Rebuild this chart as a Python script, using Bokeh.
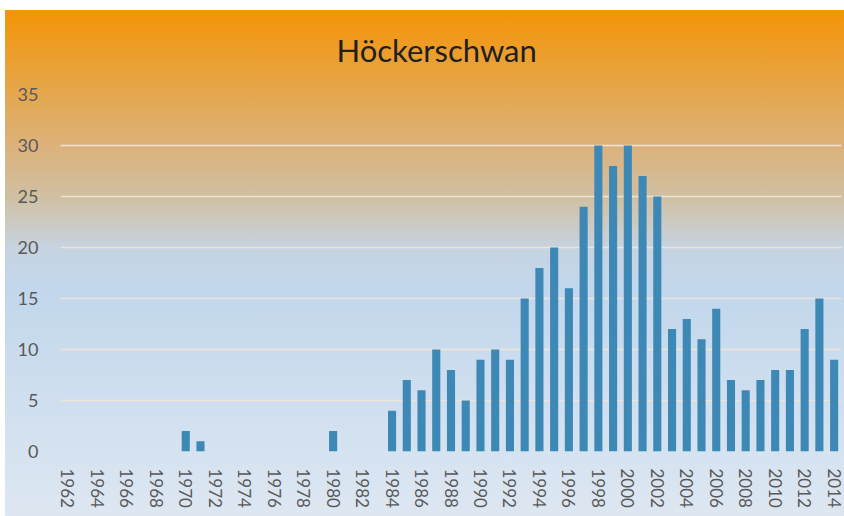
from bokeh.plotting import figure
from bokeh.models import FixedTicker, Range1d, Title
from bokeh.embed import file_html
from bokeh.resources import INLINE

# ---- data ----
years = list(range(1962, 2015))
counts = [0, 0, 0, 0, 0, 0, 0, 0,      # 1962-1969
          2, 1,                        # 1970-1971
          0, 0, 0, 0, 0, 0, 0, 0,      # 1972-1979
          2,                           # 1980
          0, 0, 0,                     # 1981-1983
          4, 7, 6, 10, 8, 5, 9, 10, 9, 15,        # 1984-1993
          18, 20, 16, 24, 30, 28, 30, 27, 25, 12,  # 1994-2003
          13, 11, 14, 7, 6, 7, 8, 8, 12, 15,       # 2004-2013
          9]                                       # 2014
x_ticks = [1962, 1964, 1966, 1968, 1970, 1972, 1974, 1976, 1978, 1980,
           1982, 1984, 1986, 1988, 1990, 1992, 1994, 1996, 1998, 2000,
           2002, 2004, 2006, 2008, 2010, 2012, 2014]
y_ticks = [0, 5, 10, 15, 20, 25, 30, 35]
title_text = "Höckerschwan"

FONT = "Lato"

p = figure(width=839, height=515, output_backend="svg", toolbar_location=None,
           x_range=Range1d(1961.5, 2014.5), y_range=Range1d(0, 35),
           min_border_left=55, min_border_right=3, min_border_top=93,
           min_border_bottom=65)

p.styles = {
    "position": "relative", "left": "5px", "top": "1px",
    "background": "linear-gradient(to bottom, #F49406 0%, #E4A750 17%, #DCB27C 27%, "
                  "#D0C0A2 37%, #C6D3E0 47%, #C2D7EC 55%, #DDE7F2 100%) "
                  "0 9px / 100% calc(100% - 9px) no-repeat",
}
p.background_fill_color = None
p.border_fill_color = None
p.outline_line_color = None

p.vbar(x=years, top=counts, width=0.55, color="#3E88B6", line_color=None)

# title
p.title = Title(text=title_text, align="left", offset=276, text_font=FONT,
                text_font_size="31px", text_font_style="normal",
                text_color="#1F1F1F", standoff=52)

# axes
p.xaxis.ticker = FixedTicker(ticks=x_ticks)
p.xaxis.major_label_orientation = "vertical"
p.xaxis.major_label_text_font = FONT
p.xaxis.major_label_text_font_size = "17px"
p.xaxis.major_label_text_color = "#595959"
p.xaxis.major_label_standoff = 11
p.xaxis.axis_line_color = None
p.xaxis.major_tick_line_color = None
p.xaxis.minor_tick_line_color = None

p.yaxis.ticker = FixedTicker(ticks=y_ticks)
p.yaxis.major_label_text_font = FONT
p.yaxis.major_label_text_font_size = "18px"
p.yaxis.major_label_text_color = "#595959"
p.yaxis.major_label_standoff = 16
p.yaxis.axis_line_color = None
p.yaxis.major_tick_line_color = None
p.yaxis.minor_tick_line_color = None

p.xgrid.grid_line_color = None
p.ygrid.grid_line_color = "#EFE4D8"
p.ygrid.grid_line_width = 1.5

open("out.html", "w").write(file_html(p, INLINE))
